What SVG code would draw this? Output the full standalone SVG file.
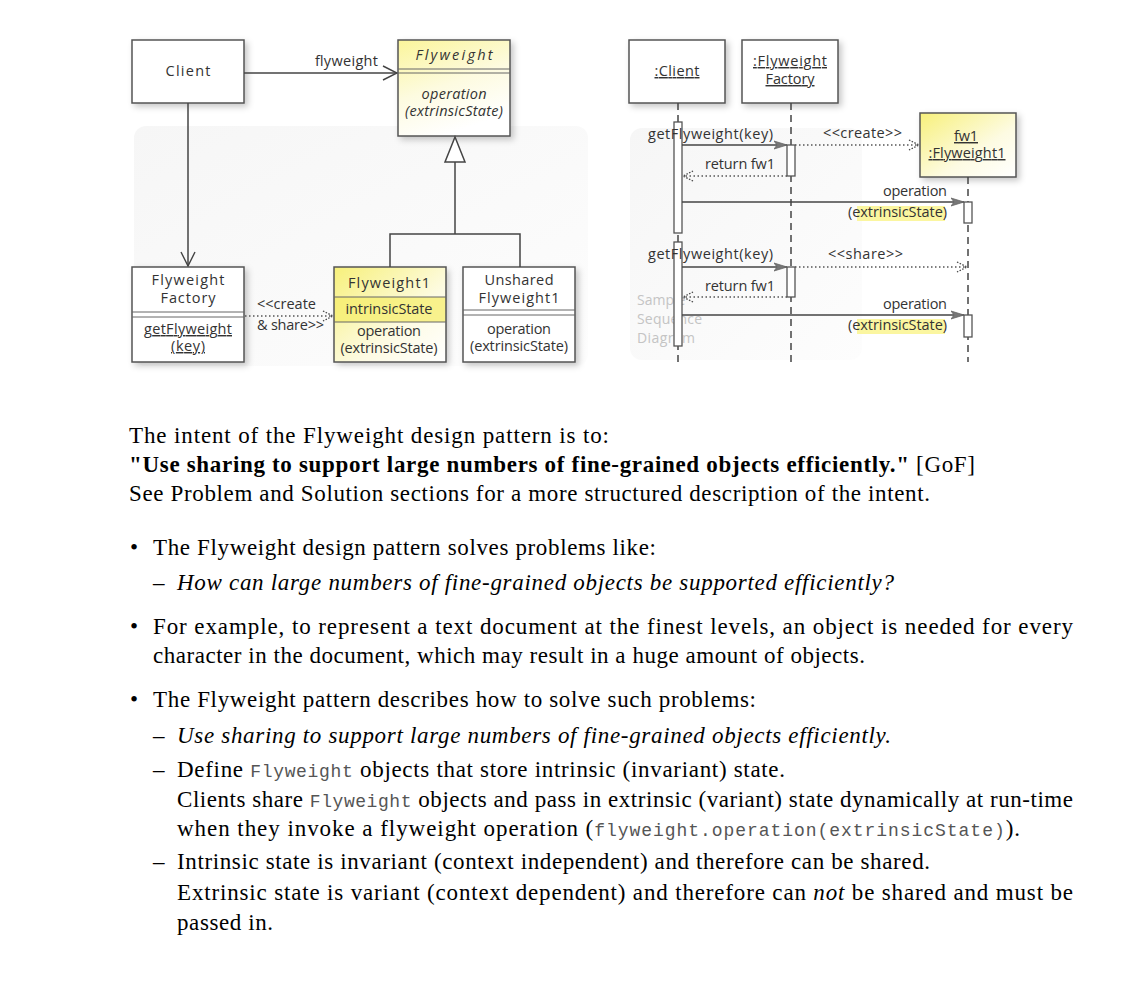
<svg xmlns="http://www.w3.org/2000/svg" width="1144" height="992" viewBox="0 0 1144 992">
<defs>
  <linearGradient id="yel" x1="0" y1="0" x2="0.4" y2="1">
    <stop offset="0" stop-color="#fbf59a"/>
    <stop offset="0.55" stop-color="#fdfbe0"/>
    <stop offset="1" stop-color="#ffffff"/>
  </linearGradient>
  <linearGradient id="yel2" x1="0" y1="0" x2="1" y2="1">
    <stop offset="0" stop-color="#f7f07a"/>
    <stop offset="0.6" stop-color="#fdfbe2"/>
    <stop offset="1" stop-color="#ffffff"/>
  </linearGradient>
  <linearGradient id="bg" x1="0" y1="0" x2="1" y2="1">
    <stop offset="0" stop-color="#f6f6f6"/>
    <stop offset="1" stop-color="#fdfdfd"/>
  </linearGradient>
  <filter id="sh" x="-20%" y="-20%" width="150%" height="150%">
    <feDropShadow dx="3" dy="3" stdDeviation="3" flood-color="#000" flood-opacity="0.22"/>
  </filter>
  <marker id="open" viewBox="0 0 16 16" refX="15" refY="8" markerWidth="16" markerHeight="16" markerUnits="userSpaceOnUse" orient="auto">
    <path d="M1,1 L15,8 L1,15" fill="none" stroke="#444" stroke-width="1.4"/>
  </marker>
  <marker id="dotopen" viewBox="0 0 12 12" refX="11" refY="6" markerWidth="12" markerHeight="12" markerUnits="userSpaceOnUse" orient="auto">
    <path d="M1,1 L11,6 L1,11" fill="none" stroke="#444" stroke-width="1.3" stroke-dasharray="1.5,1.5"/>
  </marker>
  <marker id="solid" viewBox="0 0 14 10" refX="13" refY="5" markerWidth="14" markerHeight="10" markerUnits="userSpaceOnUse" orient="auto">
    <path d="M0,1 L13,5 L0,9 L3,5 z" fill="#777" stroke="#666" stroke-width="0.8"/>
  </marker>
</defs>
<style>
  .box { fill:#fff; stroke:#555; stroke-width:1.5; }
  .ybox { fill:url(#yel); stroke:#555; stroke-width:1.5; }
  .sep { stroke:#666; stroke-width:1; fill:none; }
  .u { font-family:"Open Sans","Lato",sans-serif; font-size:14.5px; fill:#333; text-anchor:middle; }
  .ul { text-decoration:underline; }
  .l { font-family:"Open Sans","Lato",sans-serif; font-size:14.5px; fill:#333; }
  .wm { font-family:"Open Sans","Lato",sans-serif; font-size:14px; fill:#c4c4c4; }
  .line { stroke:#444; stroke-width:1.5; fill:none; }
  .dot { stroke:#555; stroke-width:1.4; fill:none; stroke-dasharray:1.5,2.5; }
  .life { stroke:#444; stroke-width:1.5; fill:none; stroke-dasharray:7,5; }
  .act { fill:#fff; stroke:#555; stroke-width:1.3; }
  .t { font-family:"Liberation Serif","Times New Roman",serif; font-size:23px; fill:#000; }
  .m { font-family:"Liberation Mono","Courier New",monospace; font-size:18px; fill:#555; }
</style>

<!-- backgrounds -->
<rect x="134" y="126" width="454" height="240" rx="12" fill="url(#bg)"/>
<rect x="630" y="128" width="232" height="232" rx="12" fill="url(#bg)"/>

<!-- ===== Class diagram ===== -->
<g id="client">
  <rect class="box" x="132" y="40" width="112" height="63" filter="url(#sh)"/>
  <text class="u" x="188" y="76" textLength="45" lengthAdjust="spacing">Client</text>
</g>
<g id="flyweight">
  <rect class="ybox" x="398" y="40" width="112" height="96" filter="url(#sh)"/>
  <text class="u" x="454" y="60" font-style="italic" textLength="77" lengthAdjust="spacing">Flyweight</text>
  <line class="sep" x1="398" y1="69" x2="510" y2="69"/>
  <line class="sep" x1="398" y1="73" x2="510" y2="73"/>
  <text class="u" x="454" y="99" font-style="italic" textLength="65" lengthAdjust="spacing">operation</text>
  <text class="u" x="454" y="116" font-style="italic" textLength="98" lengthAdjust="spacing">(extrinsicState)</text>
</g>
<g id="factory">
  <rect class="box" x="132" y="267" width="112" height="95" filter="url(#sh)"/>
  <text class="u" x="188" y="285" textLength="73" lengthAdjust="spacing">Flyweight</text>
  <text class="u" x="188" y="303" textLength="55" lengthAdjust="spacing">Factory</text>
  <line class="sep" x1="132" y1="312" x2="244" y2="312"/>
  <line class="sep" x1="132" y1="317" x2="244" y2="317"/>
  <text class="u ul" x="188" y="334" textLength="88" lengthAdjust="spacing">getFlyweight</text>
  <text class="u ul" x="188" y="351" textLength="34" lengthAdjust="spacing">(key)</text>
</g>
<g id="flyweight1">
  <rect x="334" y="267" width="112" height="95" fill="url(#yel2)" stroke="none" filter="url(#sh)"/>
  <rect x="334" y="297" width="112" height="25" fill="#f6ee6e" opacity="0.75"/>
  <rect x="334" y="267" width="112" height="95" fill="none" stroke="#555" stroke-width="1.5"/>
  <text class="u" x="389" y="288" textLength="82" lengthAdjust="spacing">Flyweight1</text>
  <line class="sep" x1="334" y1="297" x2="446" y2="297"/>
  <text class="u" x="389" y="314" textLength="87" lengthAdjust="spacing">intrinsicState</text>
  <line class="sep" x1="334" y1="322" x2="446" y2="322"/>
  <text class="u" x="389" y="336" textLength="64" lengthAdjust="spacing">operation</text>
  <text class="u" x="389" y="353" textLength="97" lengthAdjust="spacing">(extrinsicState)</text>
</g>
<g id="unshared">
  <rect class="box" x="463" y="267" width="112" height="95" filter="url(#sh)"/>
  <text class="u" x="519" y="285" textLength="69" lengthAdjust="spacing">Unshared</text>
  <text class="u" x="519" y="303" textLength="81" lengthAdjust="spacing">Flyweight1</text>
  <line class="sep" x1="463" y1="310" x2="575" y2="310"/>
  <line class="sep" x1="463" y1="315" x2="575" y2="315"/>
  <text class="u" x="519" y="334" textLength="64" lengthAdjust="spacing">operation</text>
  <text class="u" x="519" y="351" textLength="98" lengthAdjust="spacing">(extrinsicState)</text>
</g>

<g id="class-connectors">
  <line class="line" x1="244" y1="73" x2="397" y2="73" marker-end="url(#open)"/>
  <text class="l" x="315" y="66" textLength="63" lengthAdjust="spacing">flyweight</text>
  <line class="line" x1="188" y1="103" x2="188" y2="266" marker-end="url(#open)"/>
  <polygon points="455,137 445,162 465,162" fill="#fff" stroke="#444" stroke-width="1.5"/>
  <polyline class="line" points="455,162 455,234"/>
  <polyline class="line" points="390,267 390,234 520,234 520,267"/>
  <line class="dot" x1="245" y1="316" x2="333" y2="316" marker-end="url(#dotopen)"/>
  <text class="l" x="257" y="309" textLength="59" lengthAdjust="spacing">&lt;&lt;create</text>
  <text class="l" x="257" y="330" textLength="67" lengthAdjust="spacing">&amp; share&gt;&gt;</text>
</g>

<!-- ===== Sequence diagram ===== -->
<g id="seq-client">
  <rect class="box" x="629" y="40" width="96" height="63" filter="url(#sh)"/>
  <text class="u ul" x="677" y="76" textLength="45" lengthAdjust="spacing">:Client</text>
</g>
<g id="seq-factory">
  <rect class="box" x="742" y="40" width="96" height="63" filter="url(#sh)"/>
  <text class="u ul" x="790" y="66" textLength="74" lengthAdjust="spacing">:Flyweight</text>
  <text class="u ul" x="790" y="84" textLength="49" lengthAdjust="spacing">Factory</text>
</g>
<g id="seq-fw1">
  <rect x="920" y="113" width="96" height="64" fill="url(#yel2)" stroke="#555" stroke-width="1.5" filter="url(#sh)"/>
  <text class="u ul" x="966" y="141" textLength="24" lengthAdjust="spacing">fw1</text>
  <text class="u ul" x="967" y="158" textLength="77" lengthAdjust="spacing">:Flyweight1</text>
</g>

<text class="wm" x="637" y="305">Sample</text>
<text class="wm" x="637" y="324" textLength="65" lengthAdjust="spacing">Sequence</text>
<text class="wm" x="637" y="343" textLength="58" lengthAdjust="spacing">Diagram</text>

<g id="seq-connectors">
  <line class="life" x1="678" y1="103" x2="678" y2="362"/>
  <line class="life" x1="791" y1="103" x2="791" y2="362"/>
  <line class="life" x1="968" y1="177" x2="968" y2="362"/>
  <rect class="act" x="674" y="122" width="8" height="111"/>
  <rect class="act" x="674" y="242" width="8" height="104"/>
  <rect class="act" x="787" y="145" width="8" height="31"/>
  <rect class="act" x="787" y="267" width="8" height="30"/>
  <rect class="act" x="964" y="202" width="8" height="21"/>
  <rect class="act" x="964" y="315" width="8" height="22"/>

  <rect x="857" y="206" width="88" height="15" fill="#fbf6a0"/>
  <rect x="857" y="319" width="88" height="15" fill="#fbf6a0"/>

  <line class="line" x1="682" y1="145" x2="787" y2="145" marker-end="url(#solid)"/>
  <text class="l" x="648" y="139" textLength="125" lengthAdjust="spacing">getFlyweight(key)</text>
  <line class="dot" x1="795" y1="145" x2="919" y2="145" marker-end="url(#dotopen)"/>
  <text class="l" x="823" y="138" textLength="79" lengthAdjust="spacing">&lt;&lt;create&gt;&gt;</text>
  <line class="dot" x1="787" y1="176" x2="683" y2="176" marker-end="url(#dotopen)"/>
  <text class="l" x="705" y="169" textLength="70" lengthAdjust="spacing">return fw1</text>
  <line class="line" x1="682" y1="202" x2="964" y2="202" marker-end="url(#solid)"/>
  <text class="l" x="883" y="196" textLength="64" lengthAdjust="spacing">operation</text>
  <text class="l" x="848" y="217" textLength="99" lengthAdjust="spacing">(extrinsicState)</text>

  <line class="line" x1="682" y1="267" x2="787" y2="267" marker-end="url(#solid)"/>
  <text class="l" x="648" y="259" textLength="125" lengthAdjust="spacing">getFlyweight(key)</text>
  <line class="dot" x1="795" y1="267" x2="967" y2="267" marker-end="url(#dotopen)"/>
  <text class="l" x="828" y="259" textLength="75" lengthAdjust="spacing">&lt;&lt;share&gt;&gt;</text>
  <line class="dot" x1="787" y1="297" x2="683" y2="297" marker-end="url(#dotopen)"/>
  <text class="l" x="705" y="291" textLength="70" lengthAdjust="spacing">return fw1</text>
  <line class="line" x1="682" y1="315" x2="964" y2="315" marker-end="url(#solid)"/>
  <text class="l" x="883" y="309" textLength="64" lengthAdjust="spacing">operation</text>
  <text class="l" x="848" y="330" textLength="99" lengthAdjust="spacing">(extrinsicState)</text>
</g>

<!-- ===== Body text ===== -->
<g id="text">
  <text class="t" x="129" y="443" textLength="480" lengthAdjust="spacing">The intent of the Flyweight design pattern is to:</text>
  <text class="t" x="129" y="472" textLength="846" lengthAdjust="spacing"><tspan font-weight="bold">"Use sharing to support large numbers of fine-grained objects efficiently."</tspan> [GoF]</text>
  <text class="t" x="129" y="501" textLength="801" lengthAdjust="spacing">See Problem and Solution sections for a more structured description of the intent.</text>

  <text class="t" x="130" y="555">•</text>
  <text class="t" x="153" y="555" textLength="503" lengthAdjust="spacing">The Flyweight design pattern solves problems like:</text>
  <text class="t" x="153" y="590">–</text>
  <text class="t" x="177" y="590" font-style="italic" textLength="717" lengthAdjust="spacing">How can large numbers of fine-grained objects be supported efficiently?</text>

  <text class="t" x="130" y="634">•</text>
  <text class="t" x="153" y="634" textLength="920" lengthAdjust="spacing">For example, to represent a text document at the finest levels, an object is needed for every</text>
  <text class="t" x="153" y="663" textLength="712" lengthAdjust="spacing">character in the document, which may result in a huge amount of objects.</text>

  <text class="t" x="130" y="707">•</text>
  <text class="t" x="153" y="707" textLength="603" lengthAdjust="spacing">The Flyweight pattern describes how to solve such problems:</text>
  <text class="t" x="153" y="743">–</text>
  <text class="t" x="177" y="743" font-style="italic" textLength="714" lengthAdjust="spacing">Use sharing to support large numbers of fine-grained objects efficiently.</text>
  <text class="t" x="153" y="777">–</text>
  <text class="t" x="177" y="777" textLength="608" lengthAdjust="spacing">Define <tspan class="m">Flyweight</tspan> objects that store intrinsic (invariant) state.</text>
  <text class="t" x="177" y="807" textLength="896" lengthAdjust="spacing">Clients share <tspan class="m">Flyweight</tspan> objects and pass in extrinsic (variant) state dynamically at run-time</text>
  <text class="t" x="177" y="836" textLength="843" lengthAdjust="spacing">when they invoke a flyweight operation (<tspan class="m">flyweight.operation(extrinsicState)</tspan>).</text>
  <text class="t" x="153" y="869">–</text>
  <text class="t" x="177" y="869" textLength="753" lengthAdjust="spacing">Intrinsic state is invariant (context independent) and therefore can be shared.</text>
  <text class="t" x="177" y="900" textLength="896" lengthAdjust="spacing">Extrinsic state is variant (context dependent) and therefore can <tspan font-style="italic">not</tspan> be shared and must be</text>
  <text class="t" x="177" y="930" textLength="96" lengthAdjust="spacing">passed in.</text>
</g>
</svg>
